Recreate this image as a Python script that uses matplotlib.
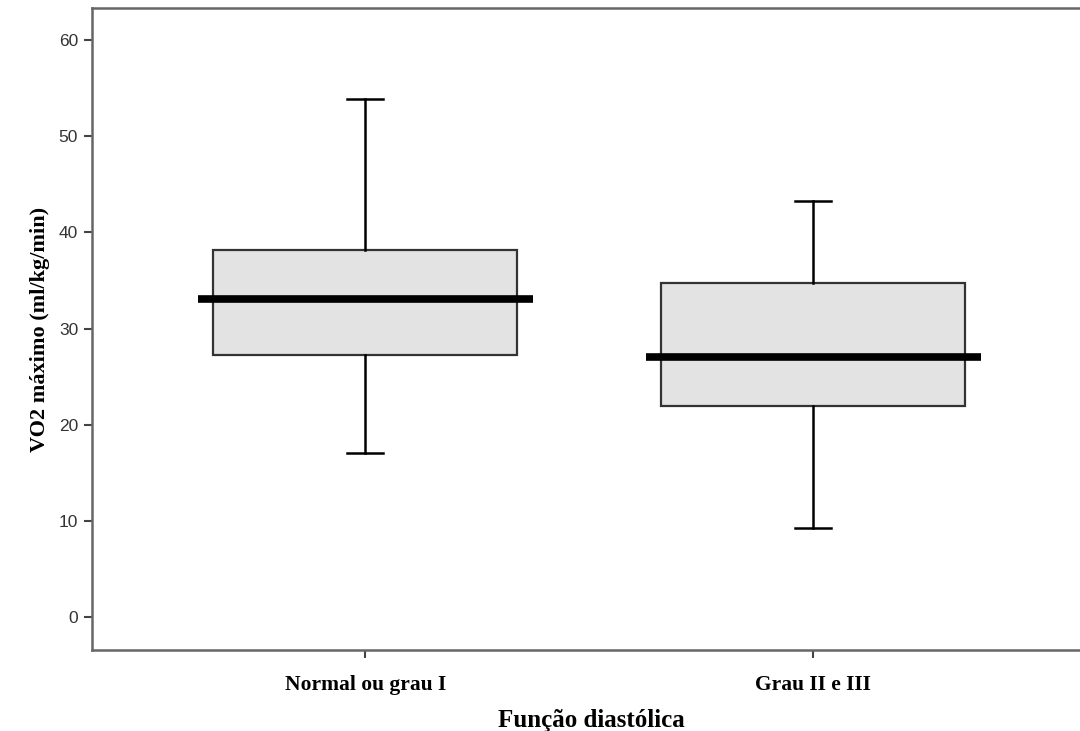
import matplotlib
matplotlib.use("Agg")
import matplotlib.pyplot as plt

# data
groups = ["Normal ou grau I", "Grau II e III"]
whisker_low = [17.1, 9.3]
q1 = [27.3, 21.9]
median = [33.1, 27.0]
q3 = [38.2, 34.7]
whisker_high = [53.8, 43.3]

positions = [1, 2]

fig = plt.figure(figsize=(10.8, 7.31), dpi=100)
ax = fig.add_axes([92 / 1080, 1 - 650 / 731, 1 - 92 / 1080 + 0.01, (650 - 8) / 731])

stats = []
for i, g in enumerate(groups):
    stats.append({
        "label": g,
        "whislo": whisker_low[i],
        "q1": q1[i],
        "med": median[i],
        "q3": q3[i],
        "whishi": whisker_high[i],
        "fliers": [],
    })

ax.bxp(stats, positions=positions, widths=0.68, patch_artist=True,
       showfliers=False, capwidths=0.08,
       boxprops=dict(facecolor="#e3e3e3", edgecolor="#333333", linewidth=1.6),
       whiskerprops=dict(color="black", linewidth=1.8),
       capprops=dict(color="black", linewidth=1.8),
       medianprops=dict(linewidth=0))

# median bars stick out past the box
ax.hlines(median, [p - 0.374 for p in positions], [p + 0.374 for p in positions],
          color="black", linewidth=5.5, zorder=5)

ax.set_xlim(0.39, 2.62)
ax.set_ylim(-3.4, 63.3)
ax.set_yticks([0, 10, 20, 30, 40, 50, 60])
ax.set_xticks(positions)
ax.set_xticklabels(groups, family="Liberation Serif", fontweight="bold", fontsize=15.5)

for t in ax.get_yticklabels():
    t.set_family("Liberation Sans")
    t.set_fontsize(12.5)
    t.set_color("#333333")

ax.tick_params(axis="both", direction="out", length=6, width=1.5, color="#444444")
ax.tick_params(axis="x", pad=12)
ax.tick_params(axis="y", pad=4)

for s in ["left", "bottom", "top"]:
    ax.spines[s].set_color("#666666")
    ax.spines[s].set_linewidth(1.8)
ax.spines["right"].set_visible(False)

ax.set_ylabel("VO2 máximo (ml/kg/min)", family="Liberation Serif", fontweight="bold", fontsize=16, labelpad=6)
ax.set_xlabel("Função diastólica", family="Liberation Serif", fontweight="bold", fontsize=18, labelpad=10)

fig.savefig("out.png", dpi=100)
